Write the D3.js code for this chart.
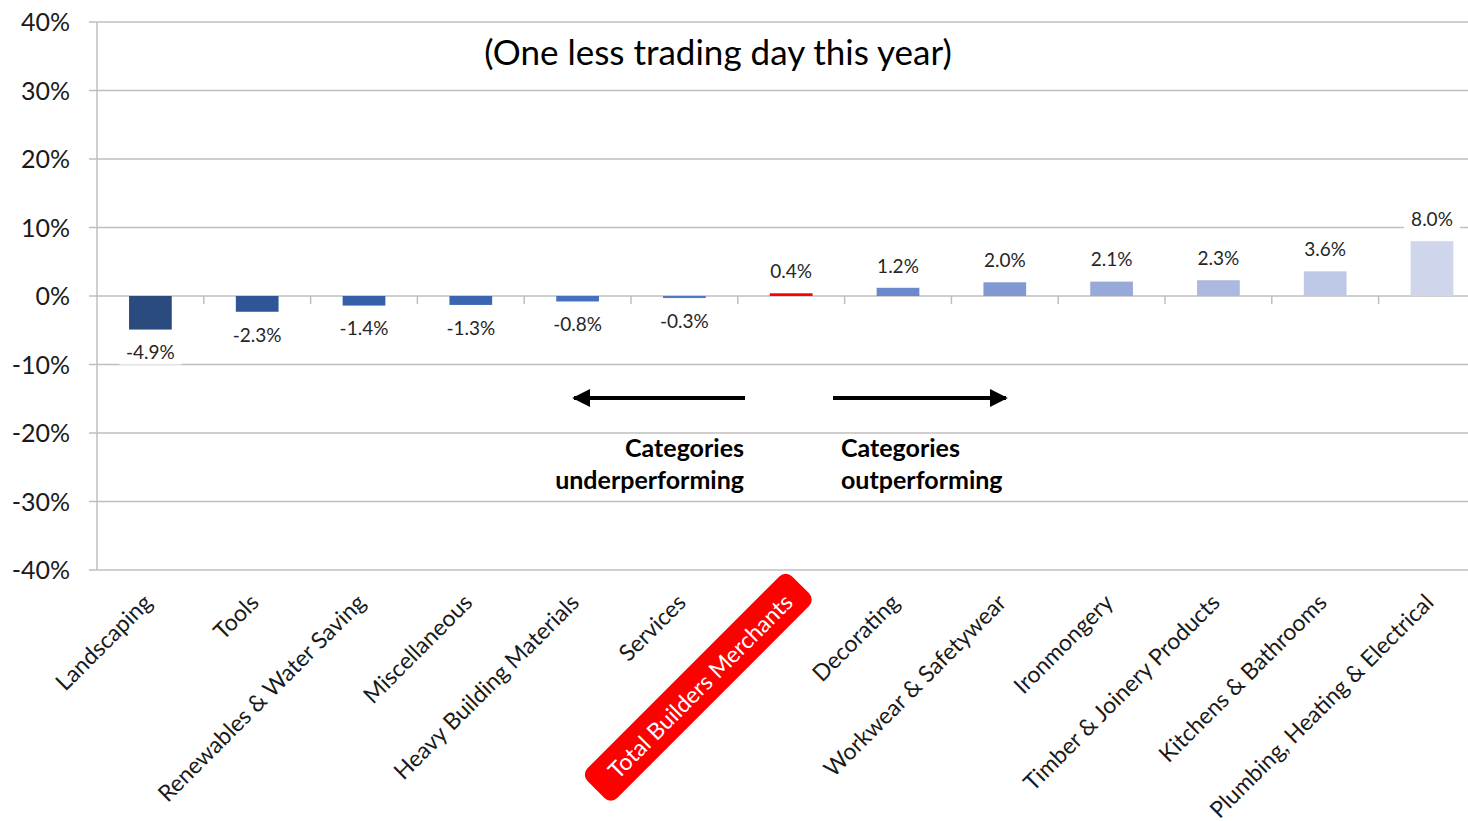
<!DOCTYPE html>
<html><head><meta charset="utf-8">
<script src="https://cdn.jsdelivr.net/npm/d3@7/dist/d3.min.js"></script>
<style>html,body{margin:0;padding:0;background:#fff;overflow:hidden}svg{display:block;font-family:Lato,"Open Sans",sans-serif}</style>
</head><body><svg id="c" width="1468" height="821"></svg>
<script>
const categories = ["Landscaping","Tools","Renewables & Water Saving","Miscellaneous","Heavy Building Materials","Services","Total Builders Merchants","Decorating","Workwear & Safetywear","Ironmongery","Timber & Joinery Products","Kitchens & Bathrooms","Plumbing, Heating & Electrical"];
const values = [-4.9,-2.3,-1.4,-1.3,-0.8,-0.3,0.4,1.2,2.0,2.1,2.3,3.6,8.0];
const barColors = ["#2B4A7E","#2F5597","#3460AA","#3A65B0","#4470BE","#5079C5","#FF0000","#6A88CA","#8198D2","#97A9D9","#ABB9E0","#BDC8E7","#CFD6EC"];
const yTicks = [-40,-30,-20,-10,0,10,20,30,40];
const title = "(One less trading day this year)";
const highlight = "Total Builders Merchants";

const svg = d3.select("#c");
const x0 = 97, step = 106.8;
const x = d3.scaleBand().domain(categories).range([x0, x0 + step*categories.length]).paddingInner(0.6).paddingOuter(0.3);
const y = d3.scaleLinear().domain([-40,40]).range([570,22]);
const grid = "#BFBFBF";

svg.append("g").selectAll("line").data(yTicks).join("line")
  .attr("x1",89).attr("x2",1468).attr("y1",d=>y(d)).attr("y2",d=>y(d))
  .attr("stroke",grid).attr("stroke-width",1.5);
svg.append("line").attr("x1",x0).attr("x2",x0).attr("y1",y(40)).attr("y2",y(-40)).attr("stroke",grid).attr("stroke-width",1.5);
svg.append("g").selectAll("text").data(yTicks).join("text")
  .attr("x",70).attr("y",d=>y(d)).attr("dy","0.36em").attr("text-anchor","end")
  .attr("font-size",25).attr("fill","#1a1a1a").text(d=>d+"%");
svg.append("g").selectAll("line").data(categories.slice(1)).join("line")
  .attr("x1",d=>x(d)-x.step()*0.3).attr("x2",d=>x(d)-x.step()*0.3)
  .attr("y1",y(0)).attr("y2",y(0)+8).attr("stroke",grid).attr("stroke-width",1.5);

svg.append("g").selectAll("rect").data(values).join("rect")
  .attr("x",(d,i)=>x(categories[i])).attr("width",x.bandwidth())
  .attr("y",d=>y(Math.max(0,d))).attr("height",d=>Math.abs(y(d)-y(0)))
  .attr("fill",(d,i)=>barColors[i]);

const lab = svg.append("g");
values.forEach((v,i)=>{
  const cx = x(categories[i]) + x.bandwidth()/2;
  const ly = v<0 ? y(v)+23 : y(v)-22;
  const t = (v<0?"-":"") + Math.abs(v).toFixed(1) + "%";
  if (i===0) lab.append("rect").attr("x",cx-31).attr("y",ly-12).attr("width",62).attr("height",24).attr("fill","#fff");
  if (i===categories.length-1) lab.append("rect").attr("x",cx-28).attr("y",ly-12).attr("width",56).attr("height",24).attr("fill","#fff");
  lab.append("text").attr("x",cx).attr("y",ly).attr("dy","0.36em").attr("text-anchor","middle")
    .attr("font-size",19).attr("fill","#262626").text(t);
});

svg.append("text").attr("x",718).attr("y",52).attr("dy","0.36em").attr("text-anchor","middle")
  .attr("font-size",35).attr("fill","#000").text(title);

const defs = svg.append("defs");
defs.append("marker").attr("id","ah").attr("viewBox","0 0 10 10").attr("refX",9).attr("refY",5)
  .attr("markerWidth",4.5).attr("markerHeight",4.5).attr("orient","auto-start-reverse").attr("markerUnits","strokeWidth")
  .append("path").attr("d","M0,0 L10,5 L0,10 z").attr("fill","#000");
svg.append("line").attr("x1",745).attr("x2",574).attr("y1",398).attr("y2",398).attr("stroke","#000").attr("stroke-width",4).attr("marker-end","url(#ah)");
svg.append("line").attr("x1",833).attr("x2",1006).attr("y1",398).attr("y2",398).attr("stroke","#000").attr("stroke-width",4).attr("marker-end","url(#ah)");

const t1 = svg.append("text").attr("text-anchor","end").attr("font-size",25).attr("font-weight","bold").attr("fill","#000");
t1.append("tspan").attr("x",744).attr("y",457).text("Categories");
t1.append("tspan").attr("x",744).attr("y",489).text("underperforming");
const t2 = svg.append("text").attr("text-anchor","start").attr("font-size",25).attr("font-weight","bold").attr("fill","#000");
t2.append("tspan").attr("x",841).attr("y",457).text("Categories");
t2.append("tspan").attr("x",841).attr("y",489).text("outperforming");

const xl = svg.append("g");
categories.forEach((c,i)=>{
  const cx = x(c) + x.bandwidth()/2;
  const g = xl.append("g").attr("transform",`translate(${cx+3},${604}) rotate(-45)`);
  const txt = g.append("text").attr("x",0).attr("y",0).attr("text-anchor","end")
    .attr("font-size",23).attr("fill", c===highlight ? "#fff" : "#1a1a1a").text(c);
  if (c===highlight) {
    const bb = txt.node().getBBox();
    g.insert("rect","text").attr("x",bb.x-22).attr("y",bb.y-7).attr("width",bb.width+40).attr("height",bb.height+14)
      .attr("rx",9).attr("fill","#FF0000");
  }
});
</script></body></html>
